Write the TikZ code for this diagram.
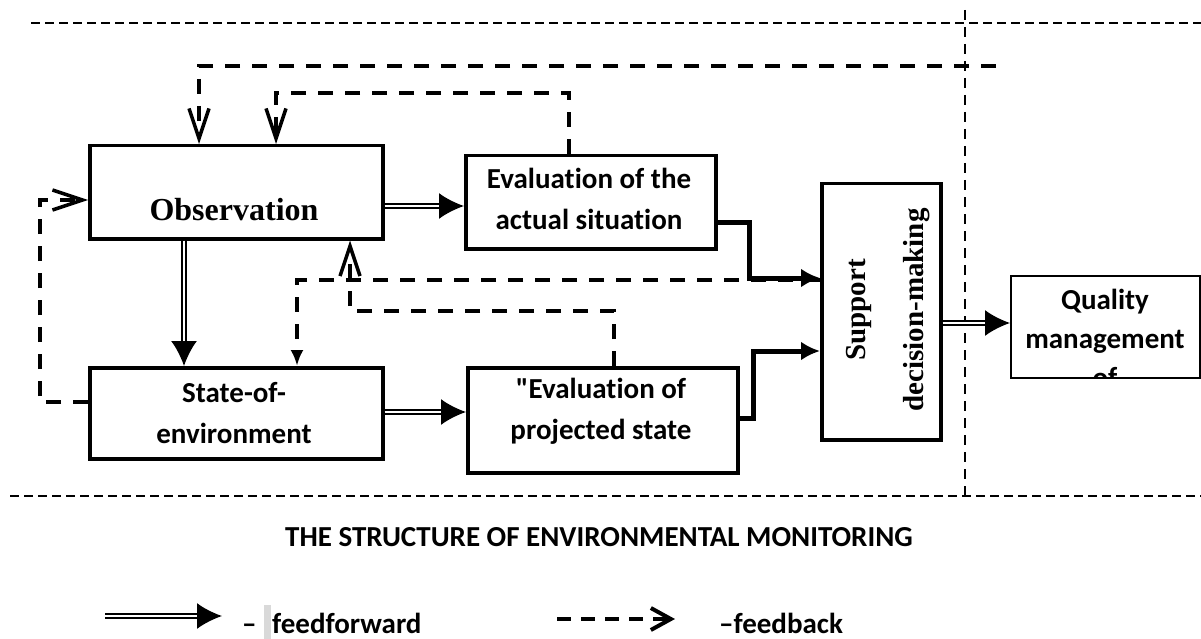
\documentclass[tikz,border=0pt]{standalone}
\usepackage{fontspec}
\newfontfamily\carl{Carlito}[Ligatures={NoCommon}]
\newfontfamily\serifb{Liberation Serif}
\usetikzlibrary{arrows.meta}
\begin{document}
\begin{tikzpicture}[x=1pt,y=-1pt,
  box/.style={draw, line width=3.5pt, inner sep=0pt, anchor=north west},
  sanslbl/.style={align=center, inner sep=0pt, font=\carl\fontsize{29}{41}\selectfont\bfseries},
  legendlbl/.style={anchor=base west, inner sep=0pt, font=\carl\fontsize{29}{35}\selectfont\bfseries},
  seriflbl/.style={inner sep=0pt, font=\serifb\fontsize{32}{38}\selectfont\bfseries},
  ffarrow/.style={double, double distance=2.5pt, line width=2.2pt, -{Latex[length=25pt,width=26pt]}},
  thkarrow/.style={line width=5pt, -{Latex[length=19pt,width=19pt]}},
  fbarrow/.style={line width=3.5pt, dash pattern=on 15pt off 12pt, -{Straight Barb[length=30pt,width=20pt]}},
  fbsmall/.style={line width=3.5pt, dash pattern=on 15pt off 12pt, -{Latex[length=16pt,width=13pt]}},
  framedash/.style={line width=2.2pt, dash pattern=on 9pt off 5pt},
  framevert/.style={line width=2.2pt, dash pattern=on 10pt off 7pt},
]
\useasboundingbox (0,0) rectangle (1201,639);

% frame lines
\draw[framedash] (31,23) -- (1201,23);
\draw[framedash] (10,496) -- (1201,496);
\draw[framevert] (965,10) -- (965,497);

% boxes
\node[box, minimum width=293pt, minimum height=93pt] (obs) at (88,144) {};
\node[seriflbl, anchor=base] (obstxt) at (234,220) {Observation};
\node[box, minimum width=250pt, minimum height=93pt] (eva) at (464,154) {};
\node[sanslbl] (evatxt) at (589,199) {Evaluation of the\\actual situation};
\node[box, minimum width=293pt, minimum height=91pt] (st) at (88,366) {};
\node[sanslbl] (sttxt) at (234,413) {State-of-\\environment};
\node[box, minimum width=270pt, minimum height=105pt] (evp) at (466,366) {};
\node[sanslbl] (evptxt) at (601,411) {\char34Evaluation of\\projected state};
\node[box, minimum width=119pt, minimum height=256pt] (sup) at (820,182) {};
\node[rotate=90, align=center, inner sep=0pt, font=\serifb\fontsize{29}{58}\selectfont\bfseries] (suptxt) at (888,310) {Support\\decision-making};
\node[box, line width=2pt, minimum width=189pt, minimum height=102pt] (qm) at (1010,275) {};
\begin{scope}
  \clip (1011,276) rectangle (1198,376);
  \node[sanslbl, font=\carl\fontsize{29}{39}\selectfont\bfseries] (qmtxt) at (1105,338) {Quality\\management\\of};
\end{scope}

% feedforward
\draw[ffarrow] (obs.east |- 0,206) -- (eva.west |- 0,206);
\draw[ffarrow] (obs.south -| 184,0) -- (st.north -| 184,0);
\draw[ffarrow] (st.east |- 0,412) -- (evp.west |- 0,412);
\draw[ffarrow] (sup.east |- 0,323) -- (qm.west |- 0,323);

% thick arrows to support
\draw[thkarrow] (eva.east |- 0,222) -| (749,278) -- (sup.west |- 0,278);
\draw[thkarrow] (evp.east |- 0,418) -| (753,351) -- (sup.west |- 0,351);

% feedback
\coordinate (fbin) at (996,66);
\draw[fbarrow] (fbin) -| (obs.north -| 199,0);
\draw[fbarrow] (eva.north -| 569,0) |- (276,93) -- (obs.north -| 276,0);
\draw[fbarrow] (st.west |- 0,402) -| (40,200) -- (obs.west |- 0,200);
\draw[fbsmall] (sup.west |- 0,280) -| (st.north -| 297,0);
\draw[fbarrow] (evp.north -| 614,0) |- (350,311) -- (obs.south -| 350,0);

% title
\node[sanslbl] (title) at (599,537) {THE STRUCTURE OF ENVIRONMENTAL MONITORING};

% legend
\coordinate (lffa) at (105,616);
\coordinate (lffb) at (222,616);
\draw[ffarrow] (lffa) -- (lffb);
\node[legendlbl] (ffdash) at (242,633) {–};
\fill[gray!30] (264,605) rectangle (271,639);
\node[legendlbl] (fftxt) at (272,633) {feedforward};
\coordinate (lfba) at (557,619);
\coordinate (lfbb) at (675,619);
\draw[line width=4pt, dash pattern=on 14pt off 10pt, -{Straight Barb[length=20pt,width=22pt]}] (lfba) -- (lfbb);
\node[legendlbl] (fbtxt) at (719,633) {–feedback};
\end{tikzpicture}
\end{document}
